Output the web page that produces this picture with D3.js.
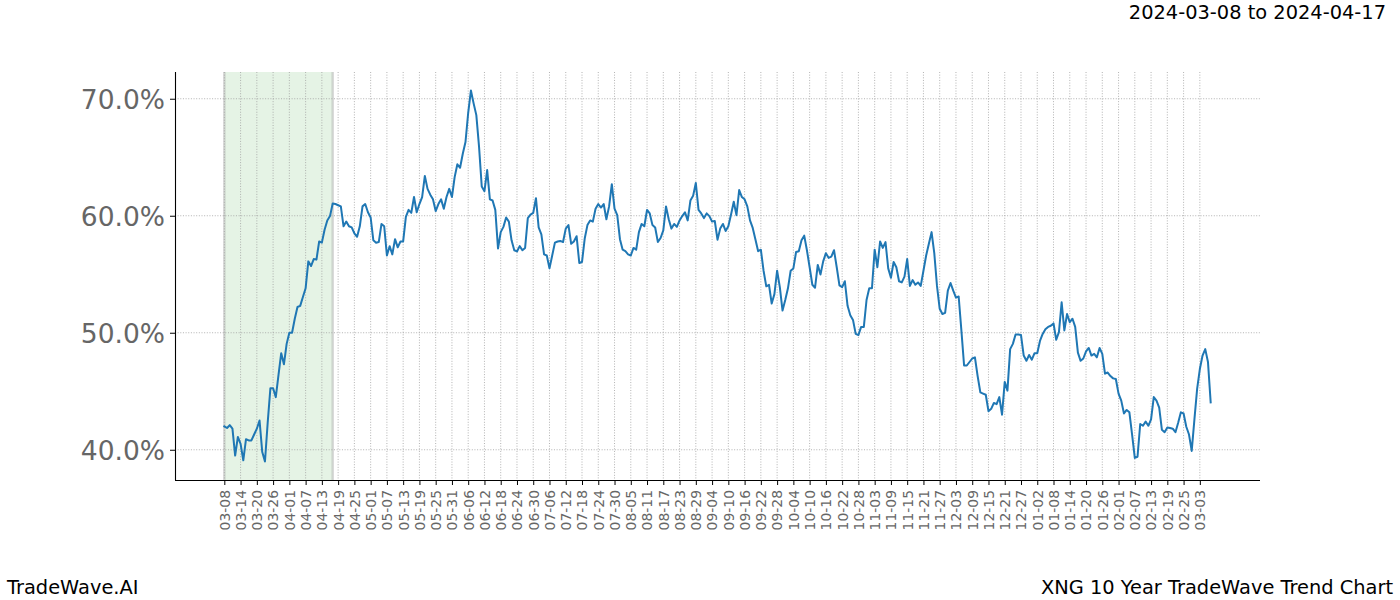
<!DOCTYPE html>
<html>
<head>
<meta charset="utf-8">
<script src="https://cdn.jsdelivr.net/npm/d3@7"></script>
<style>
  html, body { margin: 0; padding: 0; background: #fff; }
  svg { display: block; font-family: "DejaVu Sans", sans-serif; }
</style>
</head>
<body>
<svg id="chart" width="1400" height="600"></svg>
<script>
// ---- data (one value per calendar day, starting at startDate) ----
const startDate = "2024-03-08";
const values = [
  42.0,41.86,42.1,41.8,39.5,41.1,40.5,39.1,40.9,40.8,
  40.8,41.3,41.8,42.5,39.8,39.0,42.3,45.25,45.25,44.5,
  46.4,48.25,47.3,49.05,50.0,50.0,51.2,52.2,52.3,53.05,
  53.8,56.1,55.7,56.3,56.25,57.8,57.7,58.8,59.6,59.97,
  61.05,61.0,60.9,60.8,59.1,59.5,59.1,59.0,58.5,58.2,
  59.1,60.8,61.0,60.3,59.85,57.9,57.7,57.75,59.3,59.1,
  56.6,57.4,56.7,58.0,57.3,57.8,57.8,59.9,60.5,60.25,
  61.6,60.3,61.0,61.6,63.4,62.3,61.8,61.4,60.4,61.0,
  61.4,60.6,61.6,62.3,61.6,63.3,64.4,64.1,65.3,66.3,
  68.8,70.7,69.6,68.6,65.9,62.5,62.1,63.9,61.4,61.3,
  60.5,57.2,58.6,59.05,59.85,59.5,57.9,57.05,56.95,57.4,
  57.05,57.25,59.8,60.1,60.25,61.5,59.0,58.4,56.7,56.6,
  55.5,56.6,57.7,57.8,57.85,57.75,58.9,59.2,57.6,57.8,
  58.25,55.96,56.05,58.05,59.2,59.6,59.5,60.6,61.0,60.7,
  61.0,59.7,60.8,62.7,60.6,60.05,58.0,57.1,56.97,56.7,
  56.6,57.25,57.1,58.6,59.3,59.1,60.5,60.2,59.2,59.0,
  57.75,58.1,58.75,60.8,59.7,58.9,59.3,59.05,59.6,59.97,
  60.3,59.6,61.3,61.7,62.8,60.5,60.2,59.8,60.2,59.97,
  59.5,59.55,57.95,58.9,59.3,58.7,59.1,60.1,61.2,60.05,
  62.2,61.6,61.4,60.8,59.6,58.96,57.97,56.97,57.1,55.3,
  53.97,54.1,52.5,53.3,55.3,53.9,51.9,52.8,53.8,55.3,
  55.5,56.9,56.97,57.9,58.3,57.05,55.6,54.1,53.85,55.8,
  54.97,56.1,56.8,56.4,56.5,57.05,55.6,54.05,53.9,54.4,
  52.3,51.5,51.1,49.9,49.8,50.5,50.5,52.8,53.8,53.8,
  57.1,55.6,57.8,57.25,57.75,55.5,54.7,56.05,55.6,54.4,
  54.3,54.8,56.3,54.0,54.5,54.1,54.3,54.0,55.3,56.6,
  57.6,58.6,56.8,54.0,52.05,51.6,51.7,53.6,54.25,53.6,
  53.0,53.1,50.2,47.2,47.2,47.5,47.8,47.9,46.3,44.9,
  44.8,44.7,43.3,43.5,44.0,43.9,44.5,43.0,45.8,45.05,
  48.6,49.05,49.85,49.85,49.8,48.05,47.6,48.1,47.7,48.25,
  48.25,49.3,49.9,50.3,50.5,50.6,50.8,49.4,50.05,52.6,
  50.2,51.6,50.9,51.2,50.5,48.3,47.6,47.8,48.4,48.7,
  48.05,48.2,47.9,48.7,48.2,46.5,46.6,46.3,46.1,46.05,
  44.8,44.2,43.1,43.4,43.2,41.3,39.3,39.4,42.2,42.05,
  42.4,42.05,42.6,44.5,44.2,43.6,41.7,41.5,41.9,41.86,
  41.8,41.5,42.3,43.2,43.1,41.97,41.3,39.9,42.6,45.2,
  46.9,48.05,48.6,47.5,44.05
];
const highlightRange = ["2024-03-08", "2024-04-17"];
const yTickValues = [40, 50, 60, 70];
const xTickLabels = [
  "2024-03-08","2024-03-14","2024-03-20","2024-03-26","2024-04-01","2024-04-07","2024-04-13",
  "2024-04-19","2024-04-25","2024-05-01","2024-05-07","2024-05-13","2024-05-19","2024-05-25",
  "2024-05-31","2024-06-06","2024-06-12","2024-06-18","2024-06-24","2024-06-30","2024-07-06",
  "2024-07-12","2024-07-18","2024-07-24","2024-07-30","2024-08-05","2024-08-11","2024-08-17",
  "2024-08-23","2024-08-29","2024-09-04","2024-09-10","2024-09-16","2024-09-22","2024-09-28",
  "2024-10-04","2024-10-10","2024-10-16","2024-10-22","2024-10-28","2024-11-03","2024-11-09",
  "2024-11-15","2024-11-21","2024-11-27","2024-12-03","2024-12-09","2024-12-15","2024-12-21",
  "2024-12-27","2025-01-02","2025-01-08","2025-01-14","2025-01-20","2025-01-26","2025-02-01",
  "2025-02-07","2025-02-13","2025-02-19","2025-02-25","2025-03-03"
];
const titleRight = "2024-03-08 to 2024-04-17";
const footerLeft = "TradeWave.AI";
const footerRight = "XNG 10 Year TradeWave Trend Chart";

// ---- build ----
const parse = d3.utcParse("%Y-%m-%d");
const start = parse(startDate);
const data = values.map((v, i) => ({ date: d3.utcDay.offset(start, i), value: v }));

const svg = d3.select("#chart");
const W = 1400, H = 600;
const m = { left: 175, right: 140, top: 72, bottom: 120 };
const x0 = m.left, x1 = W - m.right, y0 = m.top, y1 = H - m.bottom;

const dExt = d3.extent(data, d => d.date);
const dSpan = dExt[1] - dExt[0];
const x = d3.scaleUtc()
  .domain([new Date(+dExt[0] - 0.05 * dSpan), new Date(+dExt[1] + 0.05 * dSpan)])
  .range([x0, x1]);
const vExt = d3.extent(data, d => d.value);
const vSpan = vExt[1] - vExt[0];
const y = d3.scaleLinear()
  .domain([vExt[0] - 0.05 * vSpan, vExt[1] + 0.05 * vSpan])
  .range([y1, y0]);

const xTicks = xTickLabels.map(parse);
const fmtX = d3.utcFormat("%m-%d");

// highlight span
const hs = parse(highlightRange[0]), he = parse(highlightRange[1]);
svg.append("rect")
  .attr("x", x(hs)).attr("y", y0)
  .attr("width", x(he) - x(hs)).attr("height", y1 - y0)
  .attr("fill", "#2ca02c").attr("fill-opacity", 0.12);
[hs, he].forEach(d => {
  svg.append("line")
    .attr("x1", x(d)).attr("x2", x(d)).attr("y1", y0).attr("y2", y1)
    .attr("stroke", "#aaaaaa").attr("stroke-opacity", 0.45).attr("stroke-width", 2.5);
});

// grid
const grid = svg.append("g").attr("stroke", "#a0a0a0").attr("stroke-width", 0.8)
  .attr("stroke-dasharray", "1,1.65");
grid.selectAll(".gx").data(xTicks).join("line")
  .attr("x1", d => x(d)).attr("x2", d => x(d)).attr("y1", y0).attr("y2", y1);
grid.selectAll(".gy").data(yTickValues).join("line")
  .attr("x1", x0).attr("x2", x1).attr("y1", d => y(d)).attr("y2", d => y(d));

// line
svg.append("path").datum(data)
  .attr("fill", "none").attr("stroke", "#1f77b4").attr("stroke-width", 2)
  .attr("stroke-linejoin", "round").attr("stroke-linecap", "square")
  .attr("d", d3.line().x(d => x(d.date)).y(d => y(d.value)));

// axes
const yAxis = svg.append("g").attr("transform", `translate(${x0},0)`)
  .call(d3.axisLeft(y).tickValues(yTickValues).tickFormat(d => d.toFixed(1) + "%")
    .tickSize(5).tickPadding(5).tickSizeOuter(0));
yAxis.select(".domain").attr("stroke", "#000").attr("stroke-width", 1.1)
  .attr("d", `M0.5,${y0}V${y1}`);
yAxis.selectAll(".tick line").attr("stroke", "#000");
yAxis.selectAll(".tick text").attr("font-size", 26.5).attr("fill", "#666")
  .attr("font-family", "DejaVu Sans").attr("dy", "0.35em");

const xAxis = svg.append("g").attr("transform", `translate(0,${y1})`)
  .call(d3.axisBottom(x).tickValues(xTicks).tickFormat(fmtX).tickSize(5).tickSizeOuter(0));
xAxis.select(".domain").attr("stroke", "#000").attr("stroke-width", 1.1)
  .attr("d", `M${x0},0.5H${x1}`);
xAxis.selectAll(".tick line").attr("stroke", "#000");
xAxis.selectAll(".tick text")
  .attr("font-size", 13.9).attr("fill", "#666").attr("font-family", "DejaVu Sans")
  .attr("transform", "rotate(-90)")
  .attr("text-anchor", "end")
  .attr("x", -10).attr("y", 0).attr("dy", "0.35em");

// texts
svg.append("text").attr("x", 1386).attr("y", 19).attr("text-anchor", "end")
  .attr("font-size", 19.4).attr("fill", "#000").text(titleRight);
svg.append("text").attr("x", 7).attr("y", 594).attr("text-anchor", "start")
  .attr("font-size", 19.4).attr("fill", "#000").text(footerLeft);
svg.append("text").attr("x", 1393).attr("y", 594).attr("text-anchor", "end")
  .attr("font-size", 19.4).attr("fill", "#000").text(footerRight);
</script>
</body>
</html>
